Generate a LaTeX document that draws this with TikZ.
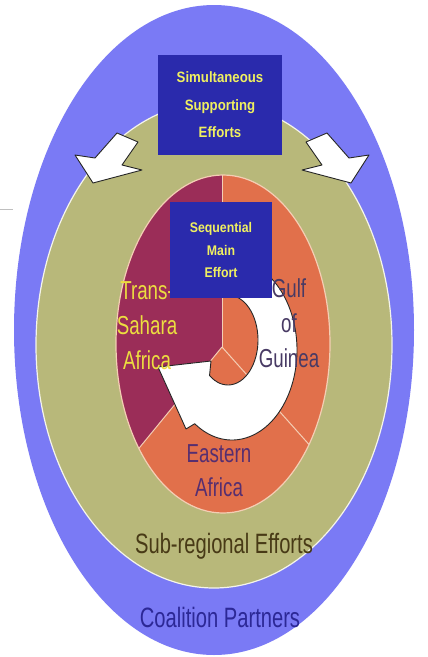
\documentclass[tikz,border=0pt]{standalone}
\usepackage{fontspec}
\setmainfont{Liberation Sans}
\newfontfamily\labelfont[FakeStretch=0.72]{Liberation Sans}
\newfontfamily\boxfont[FakeStretch=0.88]{Liberation Sans Bold}
\usepackage{xcolor}
\usepackage{tikz}
\usetikzlibrary{calc}

\definecolor{coalblue}{RGB}{122,122,245}
\definecolor{subgreen}{RGB}{184,184,122}
\definecolor{transmaroon}{RGB}{155,45,88}
\definecolor{regorange}{RGB}{225,112,75}
\definecolor{divline}{RGB}{244,206,180}
\definecolor{boxblue}{RGB}{42,42,172}
\definecolor{boxyellow}{RGB}{240,240,96}
\definecolor{transyellow}{RGB}{236,222,64}
\definecolor{gulftext}{RGB}{72,58,100}
\definecolor{easttext}{RGB}{86,46,112}
\definecolor{subtext}{RGB}{72,58,22}
\definecolor{coaltext}{RGB}{44,40,150}

\begin{document}
\begin{tikzpicture}[
    x=1pt, y=-1pt,
    divider/.style={draw=divline, line width=1pt},
    effortbox/.style={rectangle, fill=boxblue, text=boxyellow, align=center, inner sep=0pt},
    regionlabel/.style={align=center, inner sep=0pt, font=\labelfont\fontsize{26}{35}\selectfont},
    ringlabel/.style={inner sep=0pt, anchor=base, font=\labelfont\fontsize{28}{34}\selectfont},
    blockarrow/.style={fill=white, draw=black!85, line width=0.9pt, line join=round},
  ]
  \fill[white] (0,0) rectangle (428,657);
  \useasboundingbox (0,0) rectangle (428,657);
  \draw[black!25, line width=1pt] (0,209) -- (13,209);

  % Rings
  \fill[coalblue] (214,330) ellipse [x radius=200, y radius=325];
  \filldraw[fill=subgreen, draw=white!85!subgreen, line width=1.2pt] (214,345) ellipse [x radius=178, y radius=243];

  % Pie of the sub-regions
  \coordinate (hub) at (222,347);
  \begin{scope}
    \clip (223,344) ellipse [x radius=107, y radius=169];
    \fill[regorange] (100,150) rectangle (350,540);
    \fill[transmaroon] (hub) -- (222,150) -- (100,150) -- (100,496) -- cycle;
    \draw[divider] (hub) -- ++(0,-200);
    \draw[divider] (hub) -- ++(124.5,139.5);
    \draw[divider] (hub) -- ++(-123,150);
  \end{scope}
  \draw[draw=divline, line width=1.2pt] (223,344) ellipse [x radius=107, y radius=169];

  % Main effort arrow
  \draw[blockarrow] ($(232,350)+(-55:65 and 90)$)
    arc[start angle=-55, end angle=125, x radius=65, y radius=90]
    -- (186,429) -- (158,367) -- (211,361) -- ($(228,340)+(128:30 and 45)$)
    arc[start angle=128, end angle=-80, x radius=30, y radius=45] -- cycle;

  % Supporting arrows
  \foreach \s/\o in {1/0, -1/444} {
    \begin{scope}[xshift=\o pt, xscale=\s]
      \draw[blockarrow] (75,155) -- (95,158) -- (117,133) -- (138,142)
        -- (122,165) -- (142,170) -- (93,183) -- cycle;
    \end{scope}
  }

  % Region labels
  \node[regionlabel, text=transyellow] (trans) at (147,326) {Trans-\\Sahara\\Africa};
  \node[regionlabel, text=gulftext] (gulf) at (289,323) {Gulf\\of\\Guinea};
  \node[regionlabel, text=easttext, font=\labelfont\fontsize{26}{34}\selectfont] (east) at (219,471) {Eastern\\Africa};
  \node[ringlabel, text=subtext] (subreg) at (224,553) {Sub-regional Efforts};
  \node[ringlabel, text=coaltext] (coal) at (220,627) {Coalition Partners};

  % Effort boxes
  \node[effortbox, minimum width=102pt, minimum height=96pt,
        font=\boxfont\fontsize{14}{22.5}\selectfont] (mainbox) at (221,250) {Sequential\\Main\\Effort};
  \node[effortbox, minimum width=124pt, minimum height=100pt,
        font=\boxfont\fontsize{15}{27.5}\selectfont] (simbox) at (220,105) {Simultaneous\\Supporting\\Efforts};
\end{tikzpicture}
\end{document}
